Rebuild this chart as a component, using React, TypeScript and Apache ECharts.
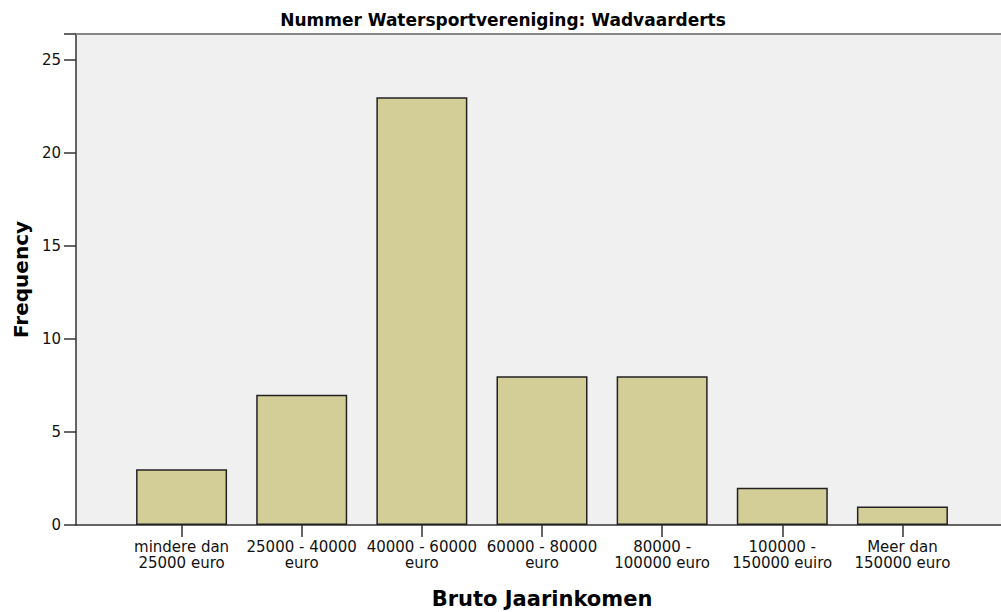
import React, { useEffect, useRef } from "react";
import * as echarts from "echarts";

const categories = [
  "mindere dan\n25000 euro",
  "25000 - 40000\neuro",
  "40000 - 60000\neuro",
  "60000 - 80000\neuro",
  "80000 -\n100000 euro",
  "100000 -\n150000 euiro",
  "Meer dan\n150000 euro",
];
const frequencies = [3, 7, 23, 8, 8, 2, 1];
const yTicks = [0, 5, 10, 15, 20, 25];

const FONT = "'DejaVu Sans', Verdana, sans-serif";

export default function App() {
  const ref = useRef<HTMLDivElement>(null);
  useEffect(() => {
    if (!ref.current) return;
    const chart = echarts.init(ref.current, undefined, { renderer: "svg" });
    const yMax = 26.4;
    chart.setOption({
      animation: false,
      backgroundColor: "#ffffff",
      textStyle: { fontFamily: FONT },
      title: {
        text: "Nummer Watersportvereniging: Wadvaarderts",
        left: 498,
        textAlign: "center",
        top: 6,
        textStyle: { fontSize: 17, fontWeight: "bold", color: "#000", fontFamily: FONT },
      },
      grid: [
        {
          left: 76, right: 0, top: 34, bottom: 87,
          show: true, backgroundColor: "#f0f0f0", borderWidth: 0,
          containLabel: false, outerBoundsMode: "none",
        },
        {
          left: 121.5, right: 38.5, top: 34, bottom: 87,
          containLabel: false, outerBoundsMode: "none",
        },
      ],
      xAxis: [
        {
          gridIndex: 0, type: "value", min: 0, max: 1,
          axisLine: { show: true, lineStyle: { color: "#333", width: 1.5 } },
          axisTick: { show: false }, axisLabel: { show: false }, splitLine: { show: false },
        },
        {
          gridIndex: 1, type: "category", data: categories,
          axisLine: { show: false },
          axisTick: { show: true, alignWithLabel: true, length: 12, lineStyle: { color: "#333", width: 1.5 } },
          axisLabel: { interval: 0, margin: 14, fontSize: 15, lineHeight: 16, color: "#111", fontFamily: FONT },
          name: "Bruto Jaarinkomen",
          nameLocation: "middle",
          nameGap: 63,
          nameTextStyle: { fontSize: 21, fontWeight: "bold", color: "#000", fontFamily: FONT },
        },
      ],
      yAxis: [
        {
          gridIndex: 0, type: "value", min: 0, max: yMax, interval: 5,
          axisLine: { show: true, lineStyle: { color: "#333", width: 1.5 } },
          axisTick: { show: true, length: 12, lineStyle: { color: "#333", width: 1.5 } },
          axisLabel: {
            fontSize: 15, color: "#111", margin: 15, fontFamily: FONT,
            formatter: (v: number) => (yTicks.includes(v) ? String(v) : ""),
          },
          splitLine: { show: false },
          name: "Frequency",
          nameLocation: "middle",
          nameGap: 43,
          nameRotate: 90,
          nameTextStyle: { fontSize: 20, fontWeight: "bold", color: "#000", fontFamily: FONT },
        },
        { gridIndex: 1, type: "value", min: 0, max: yMax, show: false },
      ],
      graphic: [
        {
          type: "line",
          shape: { x1: 76, y1: 34, x2: 1001, y2: 34 },
          style: { stroke: "#888", lineWidth: 2 },
          z: 100,
        },
      ],
      series: [
        {
          type: "bar",
          xAxisIndex: 1, yAxisIndex: 1,
          data: frequencies,
          barWidth: 91,
          itemStyle: { color: "#d3ce98", borderColor: "#222", borderWidth: 1.5 },
        },
      ],
    });
    return () => chart.dispose();
  }, []);
  return <div ref={ref} style={{ width: 1001, height: 612, position: "absolute", left: 0, top: 0 }} />;
}
